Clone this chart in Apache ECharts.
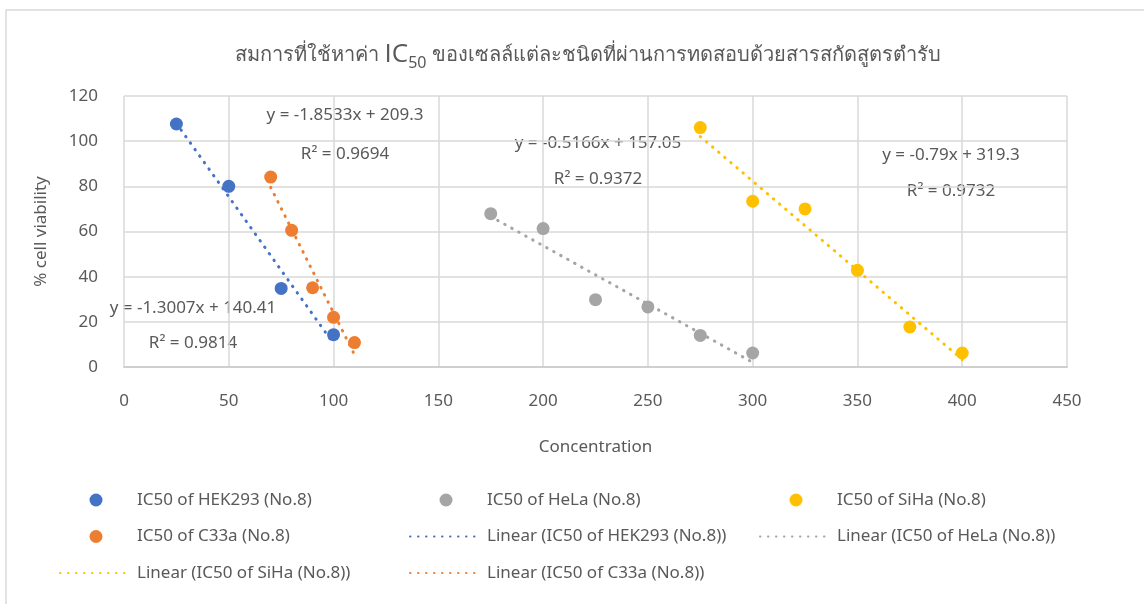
<!DOCTYPE html>
<html>
<head>
<meta charset="utf-8">
<script src="https://cdn.jsdelivr.net/npm/echarts@6/dist/echarts.min.js"></script>
<style>
  html, body { margin: 0; padding: 0; background: #fff; }
  #chart { width: 1144px; height: 604px; }
</style>
</head>
<body>
<div id="chart"></div>
<script>
// ข้อมูลที่อ่านจากกราฟ (concentration, % cell viability)
var hekX = [25, 50, 75, 100];
var hekY = [107.6, 80, 34.8, 14.3];
var helaX = [175, 200, 225, 250, 275, 300];
var helaY = [67.9, 61.3, 29.8, 26.6, 14, 6.2];
var sihaX = [275, 300, 325, 350, 375, 400];
var sihaY = [106, 73.4, 70, 42.8, 17.7, 6.2];
var c33aX = [70, 80, 90, 100, 110];
var c33aY = [84.1, 60.5, 35.1, 22, 10.8];

// trendline equations shown on the chart
var slopes = { hek: -1.3007, hela: -0.5166, siha: -0.79, c33a: -1.8533 };
var intercepts = { hek: 140.41, hela: 157.05, siha: 319.3, c33a: 209.3 };
var r2 = { hek: '0.9814', hela: '0.9372', siha: '0.9732', c33a: '0.9694' };

var xTicks = [0, 450, 50];
var yTicks = [0, 120, 20];

var colors = { hek: '#4472C4', hela: '#A5A5A5', siha: '#FFC000', c33a: '#ED7D31' };
var names = { hek: 'IC50 of HEK293 (No.8)', hela: 'IC50 of HeLa (No.8)', siha: 'IC50 of SiHa (No.8)', c33a: 'IC50 of C33a (No.8)' };

var textColor = '#595959';
var font = '"Noto Sans", sans-serif';

function pairs(xs, ys) {
    return xs.map(function(x, i) { return [x, ys[i]]; });
}

function trend(key, xs) {
    var lo = Math.min.apply(null, xs), hi = Math.max.apply(null, xs);
    return [[lo, slopes[key] * lo + intercepts[key]], [hi, slopes[key] * hi + intercepts[key]]];
}

function scatter(key, xs, ys) {
    return {
        name: names[key],
        type: 'scatter',
        symbolSize: 13,
        itemStyle: { color: colors[key], opacity: 1 },
        data: pairs(xs, ys),
        z: 3
    };
}

function linear(key, xs) {
    return {
        name: 'Linear (' + names[key] + ')',
        type: 'line',
        symbol: 'none',
        silent: true,
        lineStyle: { color: colors[key], width: 3, type: [0.5, 7.5], cap: 'round' },
        data: trend(key, xs),
        z: 2
    };
}

function eqText(key, cx, cy1, cy2) {
    return [{
        type: 'text', x: cx, y: cy1,
        style: { text: 'y = ' + slopes[key] + 'x + ' + intercepts[key], fill: textColor, font: '17px ' + font, align: 'center', verticalAlign: 'middle' }
    }, {
        type: 'text', x: cx, y: cy2,
        style: { text: 'R² = ' + r2[key], fill: textColor, font: '17px ' + font, align: 'center', verticalAlign: 'middle' }
    }];
}

// legend entry; trendline entries hide the symbol drawn in the middle of the line icon
function item(name) {
    if (name.indexOf('Linear') === 0) {
        return { name: name, itemStyle: { opacity: 0 } };
    }
    return { name: name };
}

function legendCol(left, items) {
    return {
        orient: 'vertical',
        left: left,
        top: 490,
        padding: 0,
        itemWidth: 72,
        itemHeight: 13,
        itemGap: 16.5,
        symbolKeepAspect: true,
        textStyle: { color: textColor, fontSize: 17, fontFamily: font, lineHeight: 20 },
        data: items.map(item)
    };
}

var option = {
    backgroundColor: '#fff',
    title: {
        text: '{a|สมการที่ใช้หาค่า }{ic|IC}{sub|50}{a| ของเซลล์แต่ละชนิดที่ผ่านการทดสอบด้วยสารสกัดสูตรตำรับ}',
        left: 583,
        top: 34,
        textAlign: 'center',
        textStyle: {
            fontWeight: 'normal',
            fontFamily: font,
            rich: {
                a: { fontSize: 20, fontWeight: 'normal', color: textColor, fontFamily: font, lineHeight: 32, verticalAlign: 'middle' },
                ic: { fontSize: 26, fontWeight: 'normal', color: textColor, fontFamily: 'Open Sans, sans-serif', lineHeight: 32, verticalAlign: 'middle' },
                sub: { fontSize: 16, fontWeight: 'normal', color: textColor, fontFamily: font, lineHeight: 32, verticalAlign: 'bottom' }
            }
        }
    },
    legend: [
        legendCol(59, [names.hek, names.c33a, 'Linear (' + names.siha + ')']),
        legendCol(409, [names.hela, 'Linear (' + names.hek + ')', 'Linear (' + names.c33a + ')']),
        legendCol(759, [names.siha, 'Linear (' + names.hela + ')'])
    ],
    grid: { left: 124, right: 77, top: 96, bottom: 237 },
    xAxis: {
        type: 'value',
        min: xTicks[0], max: xTicks[1], interval: xTicks[2],
        name: 'Concentration',
        nameLocation: 'middle',
        nameGap: 72,
        nameTextStyle: { color: textColor, fontSize: 17, fontFamily: font },
        axisLine: { show: true, lineStyle: { color: '#cfcfcf', width: 2 } },
        axisTick: { show: false },
        axisLabel: { color: textColor, fontSize: 17, fontFamily: font, margin: 26 },
        splitLine: { show: true, lineStyle: { color: '#d9d9d9', width: 1.5 } }
    },
    yAxis: {
        type: 'value',
        min: yTicks[0], max: yTicks[1], interval: yTicks[2],
        name: '% cell viability',
        nameLocation: 'middle',
        nameGap: 74,
        nameTextStyle: { color: textColor, fontSize: 17, fontFamily: font },
        axisLine: { show: false },
        axisTick: { show: false },
        axisLabel: { color: textColor, fontSize: 17, fontFamily: font, margin: 26 },
        splitLine: { show: true, lineStyle: { color: '#d9d9d9', width: 1.5 } }
    },
    graphic: [{
        type: 'rect',
        shape: { x: 6, y: 10, width: 1200, height: 700 },
        style: { fill: 'none', stroke: '#d9d9d9', lineWidth: 1.5 },
        z: -10
    }].concat(
        eqText('c33a', 345, 115, 154),
        eqText('hek', 193, 308, 343),
        eqText('hela', 598, 143, 179),
        eqText('siha', 951, 155, 191)
    ),
    series: [
        scatter('hek', hekX, hekY),
        scatter('hela', helaX, helaY),
        scatter('siha', sihaX, sihaY),
        scatter('c33a', c33aX, c33aY),
        linear('hek', hekX),
        linear('hela', helaX),
        linear('siha', sihaX),
        linear('c33a', c33aX)
    ]
};

var myChart = echarts.init(document.getElementById('chart'));
myChart.setOption(option);
</script>
</body>
</html>
